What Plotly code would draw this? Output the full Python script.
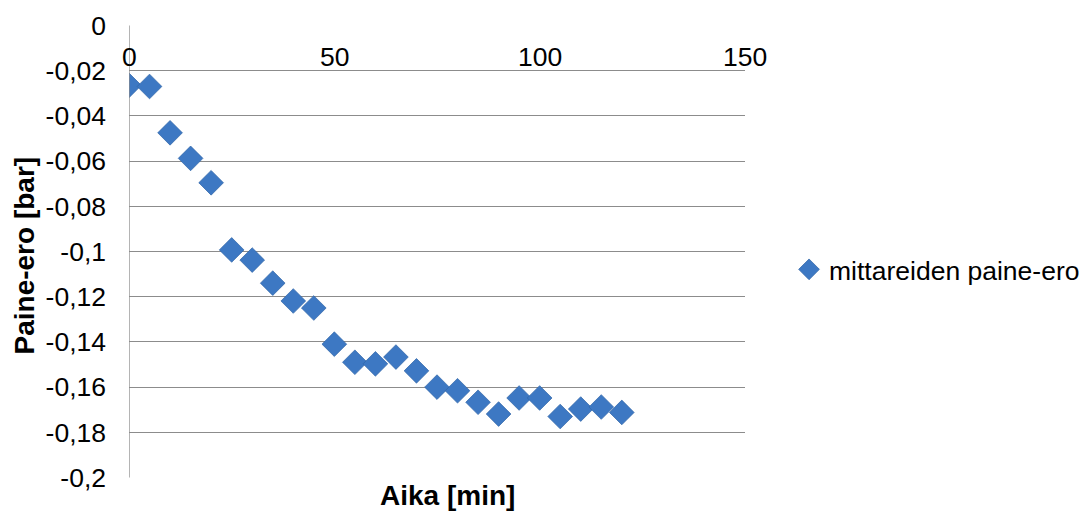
import plotly.graph_objects as go

# Measurement times [min] and pressure difference between gauges [bar]
aika = [0, 5, 10, 15, 20, 25, 30, 35, 40, 45, 50, 55, 60, 65, 70, 75, 80,
        85, 90, 95, 100, 105, 110, 115, 120]
paine_ero = [-0.0265, -0.027, -0.0475, -0.0588, -0.0696, -0.0993, -0.1038,
             -0.114, -0.1219, -0.125, -0.141, -0.149, -0.1497, -0.1467,
             -0.1528, -0.160, -0.1616, -0.1667, -0.1719, -0.1648, -0.1648,
             -0.173, -0.1697, -0.1688, -0.1712]

series_name = "mittareiden paine-ero"
x_title = "Aika [min]"
y_title = "Paine-ero [bar]"

x_ticks = [0, 50, 100, 150]
x_ticktext = ["0", "50", "100", "150"]
y_ticks = [0, -0.02, -0.04, -0.06, -0.08, -0.1, -0.12, -0.14, -0.16, -0.18, -0.2]
y_ticktext = ["0", "-0,02", "-0,04", "-0,06", "-0,08", "-0,1", "-0,12",
              "-0,14", "-0,16", "-0,18", "-0,2"]

FONT = "Liberation Sans, Arial, sans-serif"
GRID = "#8c8c8c"
TICK_SIZE = 26.5
TITLE_SIZE = 28

fig = go.Figure()
fig.add_trace(go.Scatter(
    x=aika, y=paine_ero, mode="markers", name=series_name,
    marker=dict(symbol="diamond", size=19, color="#3d78c3",
                line=dict(width=0.7, color="#2f64a6")),
))

# x tick labels sit just below the x axis, which crosses at y = 0
annotations = [
    dict(text=t, x=v, y=0, xref="x", yref="y", xanchor="center",
         yanchor="middle", yshift=-32, showarrow=False,
         font=dict(size=TICK_SIZE))
    for v, t in zip(x_ticks, x_ticktext)
]
annotations += [
    dict(text="<b>" + x_title + "</b>", xref="paper", yref="paper",
         x=0.5, y=0, xshift=10, yshift=-17, xanchor="center",
         yanchor="middle", showarrow=False, font=dict(size=TITLE_SIZE)),
    dict(text="<b>" + y_title + "</b>", xref="paper", yref="paper",
         x=0, y=0.5, xshift=-105, yshift=-4, xanchor="center",
         yanchor="middle", textangle=-90, showarrow=False,
         font=dict(size=TITLE_SIZE)),
]

fig.update_layout(
    width=1084, height=511,
    margin=dict(l=129, r=339, t=25, b=33, autoexpand=False),
    paper_bgcolor="white", plot_bgcolor="white",
    font=dict(family=FONT, size=TICK_SIZE, color="black"),
    showlegend=True,
    legend=dict(x=1.0715, y=0.46, xanchor="left", yanchor="middle",
                font=dict(size=TICK_SIZE), bgcolor="rgba(0,0,0,0)"),
    xaxis=dict(
        range=[0, 150], tickvals=x_ticks, showticklabels=False,
        showgrid=False, zeroline=False, showline=False, ticks="",
    ),
    yaxis=dict(
        range=[-0.2002, 0.0002], tickvals=y_ticks, ticktext=y_ticktext,
        showgrid=True, gridcolor=GRID, gridwidth=1.3, zeroline=False,
        showline=False, ticks="", ticklabelstandoff=22,
    ),
    annotations=annotations,
    shapes=[dict(type="line", xref="x", yref="y", x0=0, x1=0,
                 y0=y_ticks[-1], y1=y_ticks[0],
                 line=dict(color=GRID, width=1.3))],
)

fig.write_html("out.html")
